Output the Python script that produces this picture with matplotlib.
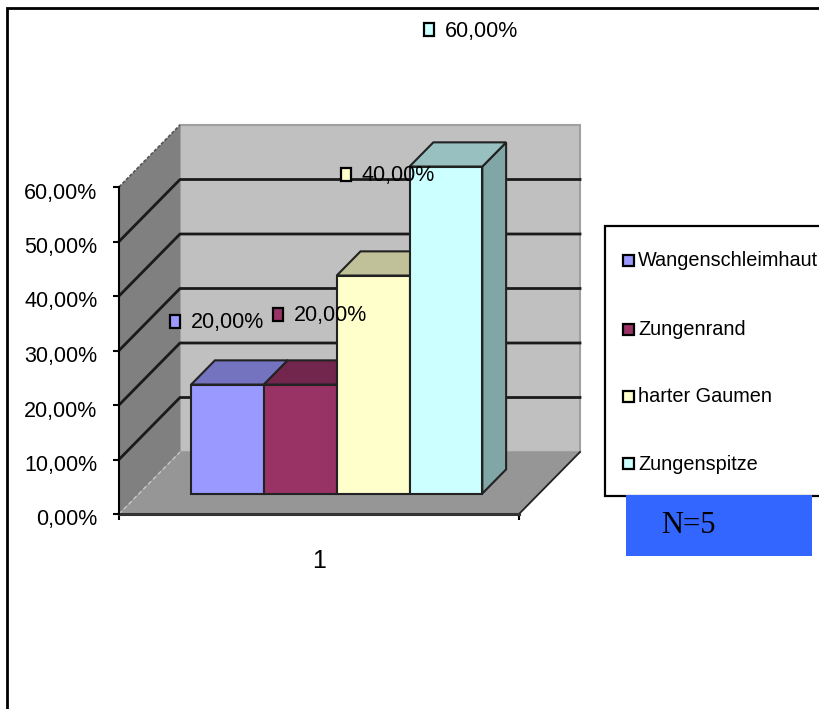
import matplotlib
matplotlib.use("Agg")
import matplotlib.pyplot as plt
from matplotlib.patches import Polygon, Rectangle
from matplotlib.transforms import ScaledTranslation

plt.rcParams['font.family'] = ['Liberation Sans', 'DejaVu Sans']

W, H = 819, 709

# Data
categories = ["Wangenschleimhaut", "Zungenrand", "harter Gaumen", "Zungenspitze"]
values = [20, 20, 40, 60]
y_ticks = [0, 10, 20, 30, 40, 50, 60]
x_label = "1"
note = "N=5"

# Series colours: front, top and side of each bar
front_colors = ["#9999FF", "#993366", "#FFFFCC", "#CCFFFF"]
top_colors = ["#7373C0", "#73264D", "#C0C099", "#99C0C0"]
side_colors = ["#6363A6", "#632142", "#A6A685", "#80A6A6"]

# Layout in pixels
label_marks = [(175, 321), (278, 314), (346, 174), (429, 29)]
legend_rows = [260, 329, 396, 463]

# 3D depth of the box, as offsets per unit of depth
DX = 61 / 400
DY = 62 / 327 * 60
BAR_D0, BAR_D1 = 0.33, 0.72
BAR_START, BAR_W = 0.13, 0.182


def percent(v):
    return f"{v:.2f}".replace(".", ",") + "%"


def pr(x, v, d=0.0):
    # project a point of the box onto the front plane
    return (x + d * DX, v + d * DY)


def px(x, y):
    return (x / W, 1 - y / H)


def face(ax, pts, color, edge="none", lw=0, z=1):
    ax.add_patch(Polygon(pts, closed=True, facecolor=color, edgecolor=edge,
                         linewidth=lw, clip_on=False, zorder=z, joinstyle="miter"))


fig = plt.figure(figsize=(W / 100, H / 100), dpi=100, facecolor="white")
ax = fig.add_axes([119 / W, 1 - 514 / H, 400 / W, 327 / H])
ax.set_xlim(0, 1)
ax.set_ylim(0, 60)
ax.patch.set_visible(False)
for s in ["top", "right", "bottom"]:
    ax.spines[s].set_visible(False)
ax.spines["left"].set_linewidth(1.5)

# Walls and floor
face(ax, [pr(0, 0, 1), pr(1, 0, 1), pr(1, 60, 1), pr(0, 60, 1)], "#C0C0C0", "#A0A0A0", 1.5)
face(ax, [pr(0, 0), pr(0, 0, 1), pr(0, 60, 1), pr(0, 60)], "#808080")
face(ax, [pr(0, 0), pr(1, 0), pr(1, 0, 1), pr(0, 0, 1)], "#969696")

# Gridlines run along the side wall and across the back wall
for v in y_ticks[1:-1]:
    xs, ys = zip(pr(0, v), pr(0, v, 1), pr(1, v, 1))
    ax.plot(xs, ys, color="#1A1A1A", lw=2.0, clip_on=False, zorder=2)
xs, ys = zip(pr(0, 60), pr(0, 60, 1))
ax.plot(xs, ys, color="#555555", lw=1.2, ls=(0, (2, 1)), clip_on=False, zorder=2)
xs, ys = zip(pr(0, 0), pr(0, 0, 1))
ax.plot(xs, ys, color="#C8C8C8", lw=1.0, ls=(0, (3, 2)), clip_on=False, zorder=2)
xs, ys = zip(pr(1, 0), pr(1, 0, 1))
ax.plot(xs, ys, color="#222222", lw=1.3, clip_on=False, zorder=2)
ax.plot([0, 1], [0, 0], color="#333333", lw=2.2, clip_on=False, zorder=2)

# Bars, left to right so each one covers the side of the previous
for i, v in enumerate(values):
    x0 = BAR_START + i * BAR_W
    x1 = x0 + BAR_W
    z = 3 + i
    face(ax, [pr(x1, 0, BAR_D0), pr(x1, 0, BAR_D1), pr(x1, v, BAR_D1), pr(x1, v, BAR_D0)],
         side_colors[i], "#222222", 1.5, z)
    face(ax, [pr(x0, v, BAR_D0), pr(x1, v, BAR_D0), pr(x1, v, BAR_D1), pr(x0, v, BAR_D1)],
         top_colors[i], "#222222", 1.5, z)
    face(ax, [pr(x0, 0, BAR_D0), pr(x1, 0, BAR_D0), pr(x1, v, BAR_D0), pr(x0, v, BAR_D0)],
         front_colors[i], "#222222", 1.5, z)

# Axis ticks and labels
ax.set_yticks(y_ticks)
ax.set_yticklabels([percent(v) for v in y_ticks], fontsize=15.5)
ax.tick_params(axis="y", length=4.5, width=1.5, pad=11)
shift = ScaledTranslation(0, -3.5 / 100, fig.dpi_scale_trans)
for t in ax.get_yticklabels():
    t.set_transform(t.get_transform() + shift)
ax.set_xticks([0, 1])
ax.set_xticklabels(["", ""])
ax.tick_params(axis="x", which="major", length=4.5, width=1.5)
ax.set_xticks([0.5], minor=True)
ax.set_xticklabels([x_label], minor=True, fontsize=18)
ax.tick_params(axis="x", which="minor", length=0, pad=25)

# Value labels with their series keys
for (mx, my), v, c in zip(label_marks, values, front_colors):
    fig.add_artist(Rectangle(px(mx - 5, my + 6.5), 10 / W, 13 / H, transform=fig.transFigure,
                             facecolor=c, edgecolor="black", linewidth=1.6, zorder=20))
    fig.text(*px(mx + 16, my + 2), percent(v), fontsize=15.5, va="center", ha="left", zorder=20)

# Outer frame runs off the right and bottom of the figure
fig.add_artist(Rectangle(px(7, 730), 840 / W, 722 / H, transform=fig.transFigure,
                         facecolor="none", edgecolor="black", linewidth=2, zorder=15))

# Legend box, also cut off at the right
fig.add_artist(Rectangle(px(605, 496), 240 / W, 270 / H, transform=fig.transFigure,
                         facecolor="white", edgecolor="black", linewidth=1.6, zorder=15))
for y, name, c in zip(legend_rows, categories, front_colors):
    fig.add_artist(Rectangle(px(622.5, y + 5.5), 11 / W, 11 / H, transform=fig.transFigure,
                             facecolor=c, edgecolor="black", linewidth=1.6, zorder=20))
    fig.text(*px(638, y + 1), name, fontsize=14.3, va="center", ha="left", zorder=20)

# N box
fig.add_artist(Rectangle(px(626, 556), 186 / W, 61 / H, transform=fig.transFigure,
                         facecolor="#3366FF", edgecolor="none", zorder=18))
fig.text(*px(661, 533), note, fontsize=22, family="Liberation Serif", va="baseline", ha="left", zorder=20)

fig.savefig("out.png", dpi=100)
